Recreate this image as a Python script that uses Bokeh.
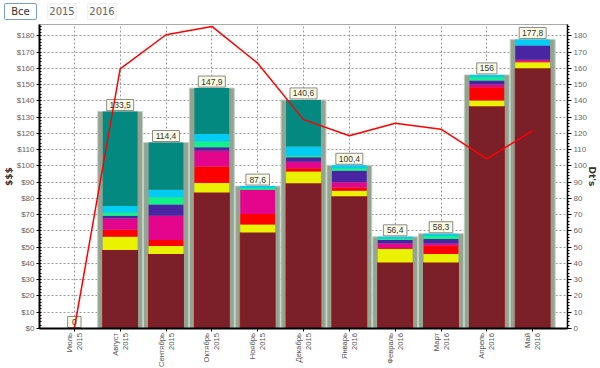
import math
from bokeh.plotting import figure
from bokeh.models import (Range1d, LinearAxis, FixedTicker, ColumnDataSource,
                          PrintfTickFormatter, Div)
from bokeh.layouts import column
from bokeh.core.properties import value
from bokeh.embed import file_html
from bokeh.resources import INLINE

# ---------------- data ----------------
months = ["Июль", "Август", "Сентябрь", "Октябрь", "Ноябрь", "Декабрь",
          "Январь", "Февраль", "Март", "Апрель", "Май"]
years = ["2015", "2015", "2015", "2015", "2015", "2015",
         "2016", "2016", "2016", "2016", "2016"]
totals = [0, 133.5, 114.4, 147.9, 87.6, 140.6, 100.4, 56.4, 58.3, 156, 177.8]
s_maroon = [0, 48.3, 45.8, 83.6, 59.1, 89.3, 81.3, 40.6, 40.6, 136.7, 160.1]
s_yellow = [0, 8.2, 4.9, 5.9, 4.9, 7.2, 3.5, 8.3, 5.2, 3.5, 3.7]
s_red = [0, 4.3, 3.7, 10.1, 6.4, 2.0, 2.0, 0.5, 5.1, 8.2, 0.5]
s_magenta = [0, 6.9, 15.0, 9.8, 14.9, 4.1, 3.1, 2.9, 1.4, 1.7, 1.0]
s_purple = [0, 1.7, 6.8, 2.1, 0, 2.7, 7.2, 2.1, 2.7, 2.4, 8.8]
s_green = [0, 2.0, 4.5, 3.5, 1.2, 1.0, 1.4, 1.0, 2.1, 2.0, 0]
s_cyan = [0, 4.0, 4.7, 4.7, 1.1, 5.6, 1.9, 1.0, 1.2, 1.5, 3.7]
s_teal = [0, 58.1, 29.0, 28.2, 0, 28.7, 0, 0, 0, 0, 0]
dts = [0, 159.7, 180.7, 185.8, 163.2, 128.5, 118.6, 126.2, 122.6, 104.4, 121.7]
y_ticks = list(range(0, 181, 10))
buttons = ["Все", "2015", "2016"]

stackers = ["maroon", "yellow", "red", "magenta", "purple", "green", "cyan", "teal"]
fills = ["#7b1f28", "#eaf200", "#ff0000", "#e3058b", "#4a25a3", "#12f28a", "#00cdf3", "#03897f"]
lines = ["#9a0f14", None, None, None, None, None, None, None]

FONT = value("Liberation Sans")
Y_MAX = 187
X_LO, X_HI = -0.76, 10.76
PX_PER_UNIT = 1.626        # approx. vertical scale, used only for label-box offset
BOX_H = 11                 # label box height in px
W = 600
DIV_H, MAIN_H, STRIP_H = 22, 310, 36

xs = list(range(len(months)))
labels = [("%g" % t).replace(".", ",") for t in totals]
box_y = [t + (BOX_H / 2 + 1) / PX_PER_UNIT for t in totals]
box_w = [10 + 3.4 * len(s) for s in labels]
src = ColumnDataSource(dict(
    x=xs, total=totals, lab=labels, dt=dts, box_y=box_y, box_w=box_w,
    maroon=s_maroon, yellow=s_yellow, red=s_red, magenta=s_magenta,
    purple=s_purple, green=s_green, cyan=s_cyan, teal=s_teal,
))

# ---------------- buttons strip (HTML) ----------------
btn_styles = [
    "width:33px;border:1px solid #7e9ccb;color:#333;background:#fff;",
    "width:30px;border:1px solid #f0f0f0;color:#666;background:#fafafa;",
    "width:30px;border:1px solid #f0f0f0;color:#666;background:#fafafa;",
]
spans = "".join(
    '<span style="display:inline-block;box-sizing:border-box;height:17px;line-height:15px;'
    'text-align:center;border-radius:2px;margin-right:10px;%s">%s</span>' % (st, b)
    for st, b in zip(btn_styles, buttons))
div = Div(text='<div style="font-family:\'DejaVu Sans\';font-size:10px;white-space:nowrap;'
               'padding:3px 0 0 4px;">%s</div>' % spans,
          width=W, height=DIV_H, margin=(0, 0, 0, 0))

# ---------------- main chart ----------------
p = figure(width=W, height=MAIN_H, x_range=Range1d(X_LO, X_HI), y_range=Range1d(0, Y_MAX),
           toolbar_location=None, output_backend="svg",
           min_border_left=0, min_border_right=33, min_border_top=2, min_border_bottom=4)
p.extra_y_ranges = {"dt": Range1d(0, Y_MAX)}
p.background_fill_color = "white"
p.border_fill_color = "white"
p.outline_line_color = "#aaaaaa"

# background total bars
p.vbar(x="x", top="total", width=0.98, source=src,
       fill_color="#93a493", line_color="#c3cfc3", line_width=1)
# stacked bars
p.vbar_stack(stackers, x="x", width=0.76, source=src,
             fill_color=fills, line_color=lines, line_width=1)
# value label boxes + texts
p.rect(x="x", y="box_y", width="box_w", height=BOX_H, width_units="screen", height_units="screen",
       source=src, fill_color="#fbfbe4", line_color="#8a8a8a", line_width=1)
p.text(x="x", y="box_y", text="lab", source=src, text_align="center", text_baseline="middle",
       text_font_size="8.5px", text_color="#333333", text_font=FONT)
# line on right axis
p.line(x="x", y="dt", source=src, y_range_name="dt", line_color="#ff0000", line_width=1.5)

# axes
yax = p.yaxis[0]
yax.ticker = FixedTicker(ticks=y_ticks, minor_ticks=list(range(0, Y_MAX + 1, 2)))
yax.formatter = PrintfTickFormatter(format="$%d")
yax.axis_label = "$$$"
yax.axis_label_standoff = 0
yax.axis_label_text_font_size = "9px"
yax.axis_label_text_font_style = "bold"
yax.axis_label_text_color = "#333333"
yax.axis_label_text_font = "DejaVu Sans"
yax.major_label_text_font_size = "8px"
yax.major_label_text_color = "#666666"
yax.major_label_text_font = "Liberation Sans"
yax.major_label_standoff = 2
yax.axis_line_width = 2
yax.axis_line_color = "black"
yax.major_tick_out = 3
yax.major_tick_in = 0
yax.minor_tick_in = 2
yax.minor_tick_out = 0
yax.minor_tick_line_color = "black"

rax = LinearAxis(y_range_name="dt")
rax.ticker = FixedTicker(ticks=y_ticks, minor_ticks=list(range(0, Y_MAX + 1, 2)))
rax.axis_label = "Dt's"
rax.axis_label_standoff = -3
rax.axis_label_text_font_size = "9px"
rax.axis_label_text_font_style = "bold"
rax.axis_label_text_color = "#333333"
rax.axis_label_text_font = "DejaVu Sans"
rax.major_label_text_font_size = "8px"
rax.major_label_text_color = "#666666"
rax.major_label_text_font = "Liberation Sans"
rax.major_label_standoff = 2
rax.axis_line_width = 1.5
rax.axis_line_color = "black"
rax.major_tick_out = 4
rax.major_tick_in = 0
rax.minor_tick_out = 2
rax.minor_tick_in = 0
rax.minor_tick_line_color = "black"
p.add_layout(rax, "right")

xax = p.xaxis[0]
xax.ticker = FixedTicker(ticks=xs)
xax.major_label_overrides = {i: "" for i in xs}
xax.major_label_text_font_size = "1px"
xax.major_label_standoff = 0
xax.axis_line_width = 2
xax.axis_line_color = "black"
xax.major_tick_out = 3
xax.major_tick_in = 0
xax.minor_tick_line_color = None

# grids
p.xgrid.ticker = FixedTicker(ticks=xs)
p.ygrid.ticker = FixedTicker(ticks=y_ticks[1:])
for g in (p.xgrid[0], p.ygrid[0]):
    g.grid_line_color = "#9a9a9a"
    g.grid_line_dash = "2 2"
    g.grid_line_width = 1

# ---------------- category label strip (shares x range) ----------------
lx = figure(width=W, height=STRIP_H, x_range=p.x_range, y_range=Range1d(0, STRIP_H),
            toolbar_location=None, output_backend="svg",
            x_axis_location=None, y_axis_location=None, min_border=0)
lx.grid.visible = False
lx.outline_line_color = None
lsrc = ColumnDataSource(dict(x=xs, m=months, yr=years, top=[STRIP_H - 0.5] * len(xs)))
for col, off in (("m", -5), ("yr", 5)):
    lx.text(x="x", y="top", text=col, source=lsrc, angle=math.pi / 2, x_offset=off,
            text_align="right", text_baseline="middle", text_font_size="7.6px",
            text_color="#555555", text_font=FONT)

layout = column(div, p, lx, spacing=0)
open("out.html", "w").write(file_html(layout, INLINE))
